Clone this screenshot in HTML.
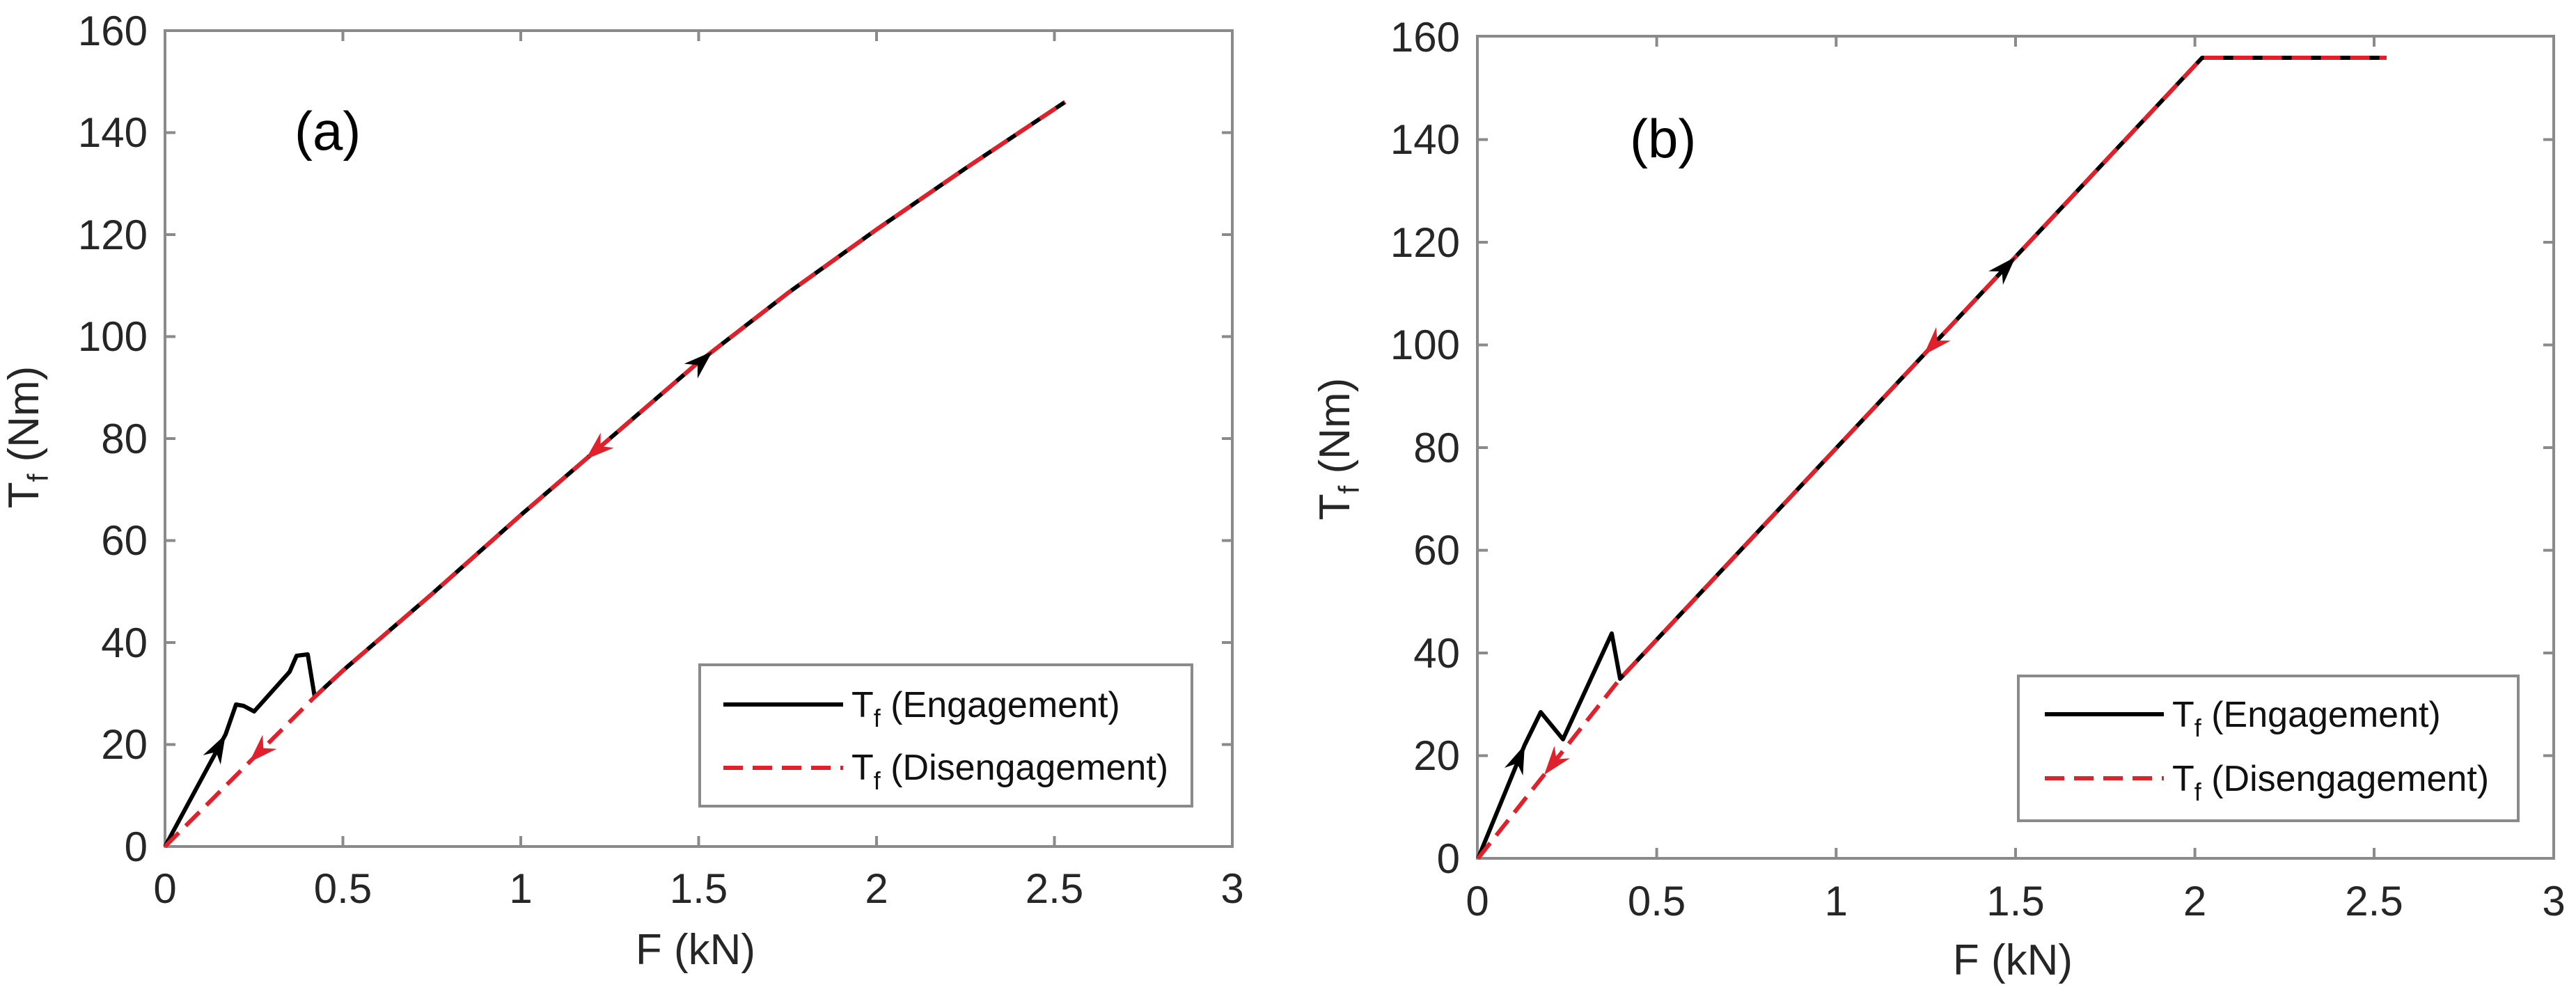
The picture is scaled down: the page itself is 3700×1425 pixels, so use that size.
<!DOCTYPE html>
<html><head><meta charset="utf-8"><style>
html,body{margin:0;padding:0;background:#fff;}
svg{display:block;}
text{font-family:"Liberation Sans",Arial,sans-serif;}
</style></head><body>
<svg width="3700" height="1425" viewBox="0 0 3700 1425" xmlns="http://www.w3.org/2000/svg">
<rect width="3700" height="1425" fill="#fff"/>

<!-- ============ LEFT PANEL ============ -->
<g stroke="#8a8a8a" stroke-width="4" fill="none">
<rect x="237" y="44" width="1533" height="1172"/>
<path d="M492.5,1216v-15M748,1216v-15M1003.5,1216v-15M1259,1216v-15M1514.5,1216v-15
M492.5,44v15M748,44v15M1003.5,44v15M1259,44v15M1514.5,44v15
M237,1069.5h15M237,923h15M237,776.5h15M237,630h15M237,483.5h15M237,337h15M237,190.5h15
M1770,1069.5h-15M1770,923h-15M1770,776.5h-15M1770,630h-15M1770,483.5h-15M1770,337h-15M1770,190.5h-15"/>
</g>
<g fill="#262626" font-size="60" text-anchor="end">
<text x="212" y="1237">0</text><text x="212" y="1090">20</text><text x="212" y="944">40</text>
<text x="212" y="797">60</text><text x="212" y="651">80</text><text x="212" y="504">100</text>
<text x="212" y="358">120</text><text x="212" y="211">140</text><text x="212" y="65">160</text>
</g>
<g fill="#262626" font-size="60" text-anchor="middle">
<text x="237" y="1297">0</text><text x="492.5" y="1297">0.5</text><text x="748" y="1297">1</text>
<text x="1003.5" y="1297">1.5</text><text x="1259" y="1297">2</text><text x="1514.5" y="1297">2.5</text>
<text x="1770" y="1297">3</text>
<text x="999" y="1385" font-size="62">F (kN)</text>
</g>
<text transform="translate(55,628) rotate(-90)" fill="#262626" font-size="62" text-anchor="middle">T<tspan font-size="42" dy="14">f</tspan><tspan dy="-14"> (Nm)</tspan></text>
<text x="423" y="215" font-size="78" fill="#000">(a)</text>

<!-- curves left -->
<polyline fill="none" stroke="#000" stroke-width="6" stroke-linejoin="round"
points="237,1216 324,1055 339,1012 350,1014 365,1022 416,965 426,942 442,940 452,1001 492.5,963.3 620.3,853.4 748,739.9 875.8,630 1003.5,520.1 1131.3,421.2 1259,329.7 1386.8,241.8 1529.8,146.5"/>
<polyline fill="none" stroke="#e0202a" stroke-width="6" stroke-dasharray="28,14"
points="237,1216 452,1001 492.5,963.3 620.3,853.4 748,739.9 875.8,630 1003.5,520.1 1131.3,421.2 1259,329.7 1386.8,241.8 1529.8,146.5"/>
<g transform="translate(324,1055) scale(1.3) translate(-324,-1055)"><polygon fill="#000" points="324,1055 318.5,1088.4 313.5,1074.4 299.1,1078"/></g>
<g transform="translate(358,1095) scale(1.3) translate(-358,-1095)"><polygon fill="#e0202a" points="358,1095 388.4,1080.2 373.6,1079.4 372.8,1064.6"/></g>
<g transform="translate(1023,505) scale(1.3) translate(-1023,-505)"><polygon fill="#000" points="1023,505 1006.8,534.7 1006.8,519.9 992,518.5"/></g>
<g transform="translate(841,660) scale(1.3) translate(-841,-660)"><polygon fill="#e0202a" points="841,660 872.3,647.1 857.5,645.4 857.7,630.5"/></g>

<!-- legend left -->
<rect x="1005" y="955" width="707" height="203" fill="#fff" stroke="#8a8a8a" stroke-width="4"/>
<line x1="1039" y1="1012" x2="1211" y2="1012" stroke="#000" stroke-width="6"/>
<line x1="1039" y1="1103" x2="1211" y2="1103" stroke="#e0202a" stroke-width="6" stroke-dasharray="28,14"/>
<g fill="#111" font-size="52">
<text x="1223" y="1030">T<tspan font-size="36" dy="14">f</tspan><tspan dy="-14"> (Engagement)</tspan></text>
<text x="1223" y="1120">T<tspan font-size="36" dy="14">f</tspan><tspan dy="-14"> (Disengagement)</tspan></text>
</g>

<!-- ============ RIGHT PANEL ============ -->
<g stroke="#8a8a8a" stroke-width="4" fill="none">
<rect x="2122" y="52" width="1546" height="1181"/>
<path d="M2379.6,1233v-15M2637.3,1233v-15M2895,1233v-15M3152.6,1233v-15M3410,1233v-15
M2379.6,52v15M2637.3,52v15M2895,52v15M3152.6,52v15M3410,52v15
M2122,1085.5h15M2122,938h15M2122,790.5h15M2122,643h15M2122,495.5h15M2122,348h15M2122,200.5h15
M3668,1085.5h-15M3668,938h-15M3668,790.5h-15M3668,643h-15M3668,495.5h-15M3668,348h-15M3668,200.5h-15"/>
</g>
<g fill="#262626" font-size="60" text-anchor="end">
<text x="2097" y="1254">0</text><text x="2097" y="1106">20</text><text x="2097" y="959">40</text>
<text x="2097" y="811">60</text><text x="2097" y="664">80</text><text x="2097" y="516">100</text>
<text x="2097" y="369">120</text><text x="2097" y="221">140</text><text x="2097" y="74">160</text>
</g>
<g fill="#262626" font-size="60" text-anchor="middle">
<text x="2122" y="1315">0</text><text x="2379.6" y="1315">0.5</text><text x="2637.3" y="1315">1</text>
<text x="2895" y="1315">1.5</text><text x="3152.6" y="1315">2</text><text x="3410" y="1315">2.5</text>
<text x="3668" y="1315">3</text>
<text x="2891" y="1400" font-size="62">F (kN)</text>
</g>
<text transform="translate(1938,645) rotate(-90)" fill="#262626" font-size="62" text-anchor="middle">T<tspan font-size="42" dy="14">f</tspan><tspan dy="-14"> (Nm)</tspan></text>
<text x="2341" y="226" font-size="78" fill="#000">(b)</text>

<!-- curves right -->
<polyline fill="none" stroke="#000" stroke-width="6" stroke-linejoin="round"
points="2123,1233 2190,1070 2213,1023 2245,1062 2315,910 2327,975 3163,83 3428,83"/>
<polyline fill="none" stroke="#e0202a" stroke-width="6" stroke-dasharray="28,14"
points="2123,1233 2327,975 3163,83 3428,83"/>
<g transform="translate(2190,1070) scale(1.3) translate(-2190,-1070)"><polygon fill="#000" points="2190,1070 2188,1103.8 2181.6,1090.4 2167.6,1095.4"/></g>
<g transform="translate(2218,1113) scale(1.3) translate(-2218,-1113)"><polygon fill="#e0202a" points="2218,1113 2246.4,1094.7 2231.6,1095.8 2229.2,1081.1"/></g>
<g transform="translate(2895,369) scale(1.3) translate(-2895,-369)"><polygon fill="#000" points="2895,369 2881.1,399.9 2880,385.1 2865.1,384.9"/></g>
<g transform="translate(2763,510) scale(1.3) translate(-2763,-510)"><polygon fill="#e0202a" points="2763,510 2792.9,494.1 2778,494 2776.9,479.1"/></g>

<!-- legend right -->
<rect x="2899" y="971" width="718" height="208" fill="#fff" stroke="#8a8a8a" stroke-width="4"/>
<line x1="2937" y1="1026" x2="3108" y2="1026" stroke="#000" stroke-width="6"/>
<line x1="2937" y1="1118" x2="3108" y2="1118" stroke="#e0202a" stroke-width="6" stroke-dasharray="28,14"/>
<g fill="#111" font-size="52">
<text x="3120" y="1044">T<tspan font-size="36" dy="14">f</tspan><tspan dy="-14"> (Engagement)</tspan></text>
<text x="3120" y="1136">T<tspan font-size="36" dy="14">f</tspan><tspan dy="-14"> (Disengagement)</tspan></text>
</g>
</svg>
</body></html>
